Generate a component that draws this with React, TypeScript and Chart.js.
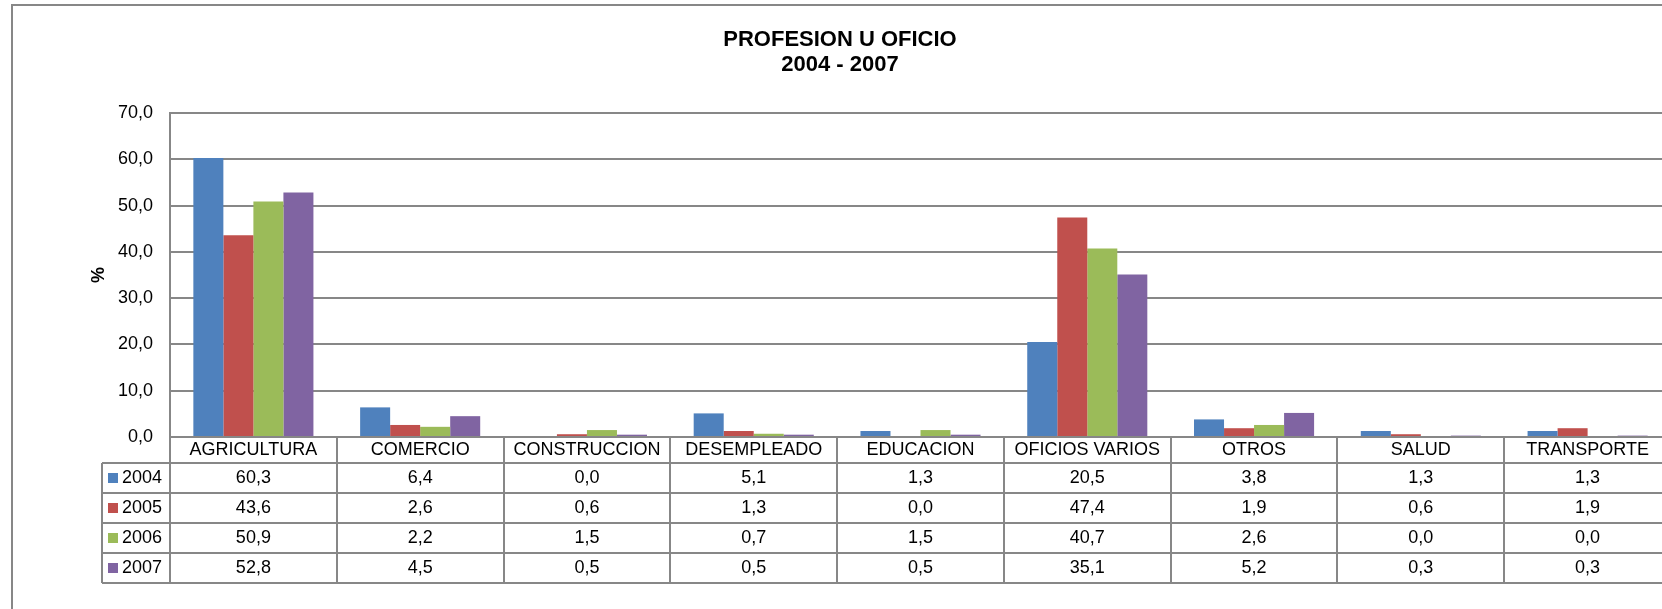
import React, { useEffect, useRef } from "react";
import { Chart, registerables } from "chart.js";

Chart.register(...registerables);

const categories = [
  "AGRICULTURA",
  "COMERCIO",
  "CONSTRUCCION",
  "DESEMPLEADO",
  "EDUCACION",
  "OFICIOS VARIOS",
  "OTROS",
  "SALUD",
  "TRANSPORTE",
];
const seriesNames = ["2004", "2005", "2006", "2007"];
const values2004 = [60.3, 6.4, 0.0, 5.1, 1.3, 20.5, 3.8, 1.3, 1.3];
const values2005 = [43.6, 2.6, 0.6, 1.3, 0.0, 47.4, 1.9, 0.6, 1.9];
const values2006 = [50.9, 2.2, 1.5, 0.7, 1.5, 40.7, 2.6, 0.0, 0.0];
const values2007 = [52.8, 4.5, 0.5, 0.5, 0.5, 35.1, 5.2, 0.3, 0.3];
const titleLines = ["PROFESION U OFICIO", "2004 - 2007"];
const yAxisTitle = "%";

const colors = ["#4F81BD", "#C0504D", "#9BBB59", "#8064A2"];
const FONT = "'Liberation Sans', Arial, sans-serif";
const LINE = "#878787";
const W = 1700;
const H = 620;

const fmt = (v: number) => v.toFixed(1).replace(".", ",");

const framePlugin = {
  id: "frame",
  beforeDraw(chart: any) {
    const ctx = chart.ctx;
    ctx.save();
    ctx.fillStyle = "#ffffff";
    ctx.fillRect(0, 0, W, H);
    ctx.strokeStyle = LINE;
    ctx.lineWidth = 2;
    ctx.strokeRect(12, 5, 1680, 608);
    ctx.restore();
  },
};

const tablePlugin = {
  id: "dataTable",
  afterDraw(chart: any) {
    const ctx = chart.ctx;
    const xs = chart.scales.x;
    const area = chart.chartArea;
    const n = chart.data.labels.length;
    const catW = (area.right - area.left) / n;
    const top = area.bottom;
    const headerH = 26;
    const rowH = 30;
    const legendLeft = 102;
    const rowTops = [top + headerH];
    for (let i = 1; i <= chart.data.datasets.length; i++) rowTops.push(top + headerH + i * rowH);
    const tableBottom = rowTops[rowTops.length - 1];

    ctx.save();
    ctx.strokeStyle = LINE;
    ctx.lineWidth = 2;
    ctx.beginPath();
    ctx.moveTo(area.left, Math.round(top));
    ctx.lineTo(area.right, Math.round(top));
    rowTops.forEach((y) => {
      ctx.moveTo(legendLeft, Math.round(y));
      ctx.lineTo(area.right, Math.round(y));
    });
    ctx.moveTo(legendLeft, rowTops[0]);
    ctx.lineTo(legendLeft, tableBottom);
    for (let k = 0; k <= n; k++) {
      const x = Math.round(xs.getPixelForValue(0) - catW / 2 + k * catW);
      ctx.moveTo(x, top);
      ctx.lineTo(x, tableBottom);
    }
    ctx.stroke();

    ctx.fillStyle = "#000";
    ctx.font = `18px ${FONT}`;
    ctx.textBaseline = "middle";
    ctx.textAlign = "center";
    chart.data.labels.forEach((lab: string, i: number) => {
      ctx.fillText(lab, xs.getPixelForValue(i), top + headerH / 2 + 0.5);
    });
    chart.data.datasets.forEach((ds: any, r: number) => {
      const cy = rowTops[r] + rowH / 2 + 0.5;
      ctx.fillStyle = ds.backgroundColor;
      ctx.fillRect(108, Math.round(cy - 5.5), 10, 10);
      ctx.fillStyle = "#000";
      ctx.textAlign = "left";
      ctx.fillText(ds.label, 122, cy);
      ctx.textAlign = "center";
      ds.data.forEach((v: number, i: number) => {
        ctx.fillText(fmt(v), xs.getPixelForValue(i), cy);
      });
    });
    ctx.restore();
  },
};

export default function App() {
  const ref = useRef<HTMLCanvasElement | null>(null);
  useEffect(() => {
    if (!ref.current) return;
    const allValues = [values2004, values2005, values2006, values2007];
    const chart = new Chart(ref.current, {
      type: "bar",
      data: {
        labels: categories,
        datasets: seriesNames.map((name, i) => ({
          label: name,
          data: allValues[i],
          backgroundColor: colors[i],
          borderWidth: 0,
          categoryPercentage: 0.72,
          barPercentage: 1,
        })),
      },
      options: {
        animation: false,
        responsive: false,
        devicePixelRatio: 1,
        layout: { padding: { left: 9, right: 29, top: 5, bottom: 37 } },
        plugins: {
          legend: { display: false },
          tooltip: { enabled: false },
          title: {
            display: true,
            text: titleLines,
            color: "#000",
            font: { family: FONT, size: 22, weight: "bold", lineHeight: 25 / 22 },
            padding: { top: 22.5, bottom: 35.5 },
          },
        },
        scales: {
          x: {
            grid: { display: false, drawTicks: false },
            border: { display: false },
            ticks: { display: false },
            afterFit: (s: any) => {
              s.height = 146;
            },
          },
          y: {
            min: 0,
            max: 70,
            ticks: {
              stepSize: 10,
              padding: 17,
              color: "#000",
              font: { family: FONT, size: 18 },
              callback: (v: any) => fmt(Number(v)),
            },
            grid: { color: LINE, lineWidth: 2, drawTicks: false },
            border: { display: true, color: LINE, width: 2 },
            title: {
              display: true,
              text: yAxisTitle,
              color: "#000",
              font: { family: FONT, size: 18, weight: "bold" },
              padding: { top: 79, bottom: 0 },
            },
            afterFit: (s: any) => {
              s.width = 161;
            },
          },
        },
      },
      plugins: [framePlugin, tablePlugin],
    });
    return () => chart.destroy();
  }, []);
  return (
    <div
      style={{
        position: "fixed",
        left: 0,
        top: 0,
        width: 1662,
        height: 609,
        overflow: "hidden",
        background: "#fff",
      }}
    >
      <canvas ref={ref} width={W} height={H} style={{ display: "block" }} />
    </div>
  );
}
